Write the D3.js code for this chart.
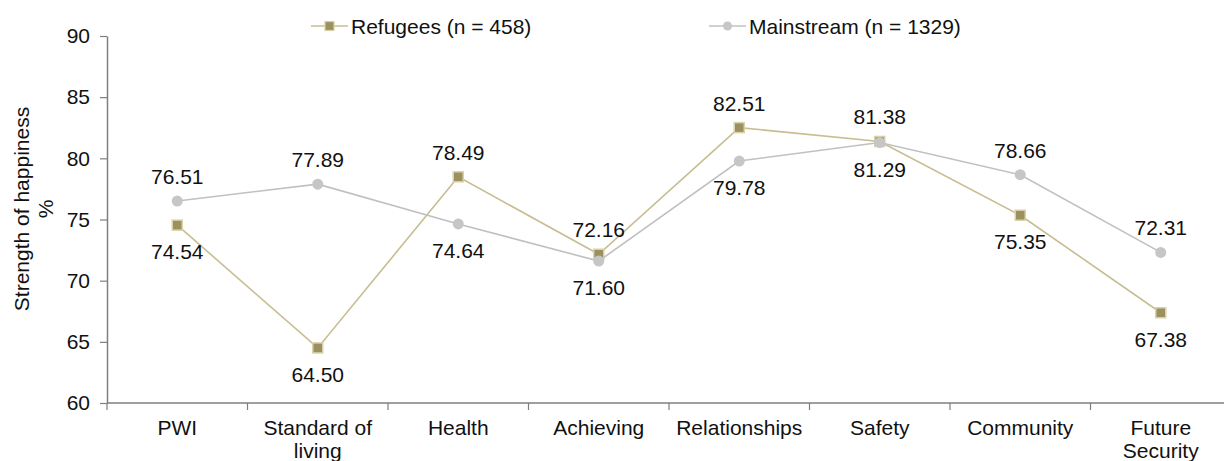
<!DOCTYPE html>
<html>
<head>
<meta charset="utf-8">
<script src="https://cdn.jsdelivr.net/npm/d3@7"></script>
<style>
  html, body { margin: 0; padding: 0; background: #fff; }
  svg { display: block; font-family: "Liberation Sans", Arial, sans-serif; }
</style>
</head>
<body>
<svg id="chart" width="1224" height="461"></svg>
<script>
// Domains of the Personal Wellbeing Index
const categories = [
  ["PWI"], ["Standard of", "living"], ["Health"], ["Achieving"],
  ["Relationships"], ["Safety"], ["Community"], ["Future", "Security"]
];
const categoryKeys = categories.map(c => c.join(" "));

const refugees   = [74.54, 64.50, 78.49, 72.16, 82.51, 81.38, 75.35, 67.38];
const mainstream = [76.51, 77.89, 74.64, 71.60, 79.78, 81.29, 78.66, 72.31];

// label placement: +1 above the point, -1 below
const refugeeLabelSide    = [-1, -1, 1, 1, 1, 1, -1, -1];
const mainstreamLabelSide = [1, 1, -1, -1, -1, -1, 1, 1];

const yTicks = [60, 65, 70, 75, 80, 85, 90];

const svg = d3.select("#chart");
const plotLeft = 107, plotTop = 36, plotBottom = 403, bandW = 140.5;

const x = d3.scaleBand().domain(categoryKeys).range([plotLeft, plotLeft + bandW * categoryKeys.length]);
const y = d3.scaleLinear().domain([60, 90]).range([plotBottom, plotTop]);

const axisColor = "#7f7f7f";

// y axis
const yAxis = svg.append("g")
  .attr("transform", `translate(${plotLeft},0)`)
  .call(d3.axisLeft(y).tickValues(yTicks).tickSize(7).tickPadding(10).tickSizeOuter(0));
yAxis.select(".domain").attr("stroke", axisColor).attr("stroke-width", 1.5);
yAxis.selectAll(".tick line").attr("stroke", axisColor).attr("stroke-width", 1.2);
yAxis.selectAll(".tick text").attr("font-size", 21).attr("fill", "#111")
  .attr("font-family", '"Liberation Sans", Arial, sans-serif');

// x axis (ticks at band boundaries)
const xAxisG = svg.append("g").attr("transform", `translate(0,${plotBottom})`);
xAxisG.append("line")
  .attr("x1", plotLeft).attr("x2", x.range()[1])
  .attr("stroke", axisColor).attr("stroke-width", 1.5);
xAxisG.selectAll("line.tk")
  .data(d3.range(categoryKeys.length + 1))
  .join("line").attr("class", "tk")
  .attr("x1", i => plotLeft + i * x.bandwidth()).attr("x2", i => plotLeft + i * x.bandwidth())
  .attr("y1", 0).attr("y2", 7)
  .attr("stroke", axisColor).attr("stroke-width", 1.2);
const xl = xAxisG.selectAll("text.cat")
  .data(categories)
  .join("text").attr("class", "cat")
  .attr("x", (d, i) => x(categoryKeys[i]) + x.bandwidth() / 2)
  .attr("y", 32)
  .attr("text-anchor", "middle").attr("font-size", 21).attr("fill", "#111");
xl.selectAll("tspan").data(d => d).join("tspan")
  .attr("x", function () { return this.parentNode.getAttribute("x"); })
  .attr("dy", (d, i) => i === 0 ? 0 : 23)
  .text(d => d);

// y axis title
const yTitle = svg.append("text")
  .attr("transform", "translate(29,209) rotate(-90)")
  .attr("text-anchor", "middle").attr("font-size", 21).attr("fill", "#111");
yTitle.append("tspan").attr("x", 0).attr("dy", 0).text("Strength of happiness");
yTitle.append("tspan").attr("x", 0).attr("dy", 24).text("%");

const cx = i => x(categoryKeys[i]) + x.bandwidth() / 2;
const line = d3.line().x((d, i) => cx(i)).y(d => y(d));

const refLine = "#c7bd91", refFill = "#9b9160", refEdge = "#d9d1aa";
const mainLine = "#c0c0c0", mainFill = "#c6c6c6";

// Refugees series
svg.append("path").datum(refugees)
  .attr("d", line).attr("fill", "none").attr("stroke", refLine).attr("stroke-width", 1.6);
svg.append("g").selectAll("rect").data(refugees).join("rect")
  .attr("x", (d, i) => cx(i) - 5).attr("y", d => y(d) - 5)
  .attr("width", 10).attr("height", 10)
  .attr("fill", refFill).attr("stroke", refEdge).attr("stroke-width", 1.5);

// Mainstream series
svg.append("path").datum(mainstream)
  .attr("d", line).attr("fill", "none").attr("stroke", mainLine).attr("stroke-width", 1.6);
svg.append("g").selectAll("circle").data(mainstream).join("circle")
  .attr("cx", (d, i) => cx(i)).attr("cy", d => y(d)).attr("r", 5.5)
  .attr("fill", mainFill);

// value labels
function addLabels(values, sides) {
  svg.append("g").selectAll("text").data(values).join("text")
    .attr("x", (d, i) => cx(i))
    .attr("y", (d, i) => y(d) + (sides[i] > 0 ? -17 : 34))
    .attr("text-anchor", "middle").attr("font-size", 21).attr("fill", "#111")
    .text(d => d.toFixed(2));
}
addLabels(refugees, refugeeLabelSide);
addLabels(mainstream, mainstreamLabelSide);

// legend
const legend = [
  { name: "Refugees (n = 458)", x: 311, color: refLine, shape: "square" },
  { name: "Mainstream (n = 1329)", x: 709, color: mainLine, shape: "circle" }
];
const ly = 26;
legend.forEach(l => {
  const g = svg.append("g");
  g.append("line").attr("x1", l.x).attr("x2", l.x + 37).attr("y1", ly).attr("y2", ly)
    .attr("stroke", l.color).attr("stroke-width", 1.6);
  if (l.shape === "square") {
    g.append("rect").attr("x", l.x + 18.5 - 4.5).attr("y", ly - 4.5).attr("width", 9).attr("height", 9)
      .attr("fill", refFill).attr("stroke", refEdge).attr("stroke-width", 1.2);
  } else {
    g.append("circle").attr("cx", l.x + 18.5).attr("cy", ly).attr("r", 4.5).attr("fill", mainFill);
  }
  g.append("text").attr("x", l.x + 40).attr("y", ly + 7.5)
    .attr("font-size", 21).attr("fill", "#111").text(l.name);
});
</script>
</body>
</html>
